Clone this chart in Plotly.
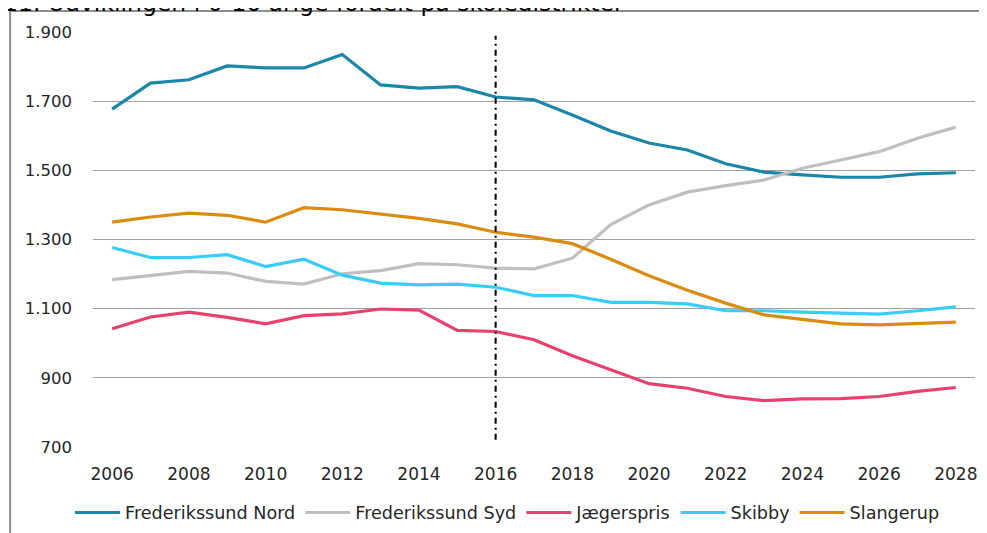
import plotly.graph_objects as go

years = list(range(2006, 2029))

nord = [1677, 1752, 1762, 1802, 1796, 1796, 1835, 1747, 1738, 1742, 1712, 1704,
        1660, 1614, 1579, 1559, 1519, 1495, 1487, 1480, 1480, 1490, 1493]
syd = [1184, 1195, 1208, 1203, 1179, 1171, 1201, 1210, 1230, 1227, 1217, 1215,
       1246, 1343, 1400, 1437, 1456, 1472, 1506, 1530, 1554, 1593, 1625]
jaegerspris = [1042, 1076, 1090, 1075, 1056, 1080, 1085, 1099, 1096, 1037, 1034, 1010,
               964, 923, 883, 870, 846, 834, 839, 840, 846, 861, 872]
skibby = [1277, 1248, 1248, 1256, 1222, 1243, 1197, 1174, 1169, 1171, 1162, 1138,
          1138, 1118, 1118, 1114, 1094, 1094, 1090, 1087, 1084, 1094, 1105]
slangerup = [1350, 1365, 1376, 1370, 1350, 1392, 1386, 1374, 1361, 1345, 1321, 1307,
             1288, 1243, 1195, 1153, 1116, 1082, 1068, 1056, 1053, 1058, 1061]

series = [
    ("Frederikssund Nord", nord, "#1A86A8"),
    ("Frederikssund Syd", syd, "#BFBFBF"),
    ("Jægerspris", jaegerspris, "#E8416F"),
    ("Skibby", skibby, "#38CCF8"),
    ("Slangerup", slangerup, "#DA8B12"),
]

y_ticks = [700, 900, 1100, 1300, 1500, 1700, 1900]
y_labels = ["700", "900", "1.100", "1.300", "1.500", "1.700", "1.900"]
x_ticks = list(range(2006, 2029, 2))

split_year = 2016
title = "11. Udviklingen i 0-16 årige fordelt på skoledistrikter"

fig = go.Figure()
for name, vals, color in series:
    fig.add_trace(go.Scatter(x=years, y=vals, name=name, mode="lines",
                             line=dict(color=color, width=3.2)))

# dash-dot marker for the forecast start
fig.add_shape(type="line", xref="x", yref="y", x0=split_year, x1=split_year,
              y0=721, y1=1889, line=dict(color="black", width=2, dash="6px,4px,2px,4px"))

# outer frame (top and left edge)
fig.add_shape(type="line", xref="paper", yref="paper", x0=-0.094, x1=1.02,
              y0=1.0506, y1=1.0506, line=dict(color="#8C8C8C", width=2))
fig.add_shape(type="line", xref="paper", yref="paper", x0=-0.094, x1=-0.094,
              y0=1.0506, y1=-0.3, line=dict(color="#8C8C8C", width=2))

# title, mostly cut off at the top of the picture
fig.add_annotation(text=title, xref="paper", yref="paper", x=-0.104, y=1.031,
                   xanchor="left", yanchor="bottom", showarrow=False,
                   font=dict(family="DejaVu Sans", size=23.5, color="black"))

fig.update_layout(
    width=979, height=525,
    margin=dict(l=85, r=12, t=24, b=86, autoexpand=False),
    paper_bgcolor="white", plot_bgcolor="white",
    font=dict(family="DejaVu Sans", color="#262626", size=16),
    showlegend=True,
    legend=dict(orientation="h", xref="paper", x=-0.026, xanchor="left",
                y=-0.158, yanchor="middle", font=dict(size=17.6),
                itemwidth=45, tracegroupgap=0),
)
fig.update_xaxes(range=[2005.5, 2028.5], tickvals=x_ticks, showgrid=False,
                 zeroline=False, showline=False, ticks="", ticklabelstandoff=15,
                 tickfont=dict(size=17), tickangle=0)
fig.update_yaxes(range=[700, 1900], tickvals=y_ticks, ticktext=y_labels,
                 showgrid=True, gridcolor="#A0A0A0", gridwidth=1.3,
                 zeroline=False, showline=False, ticks="", ticklabelstandoff=20,
                 tickfont=dict(size=16.5))

fig.write_html("out.html")
